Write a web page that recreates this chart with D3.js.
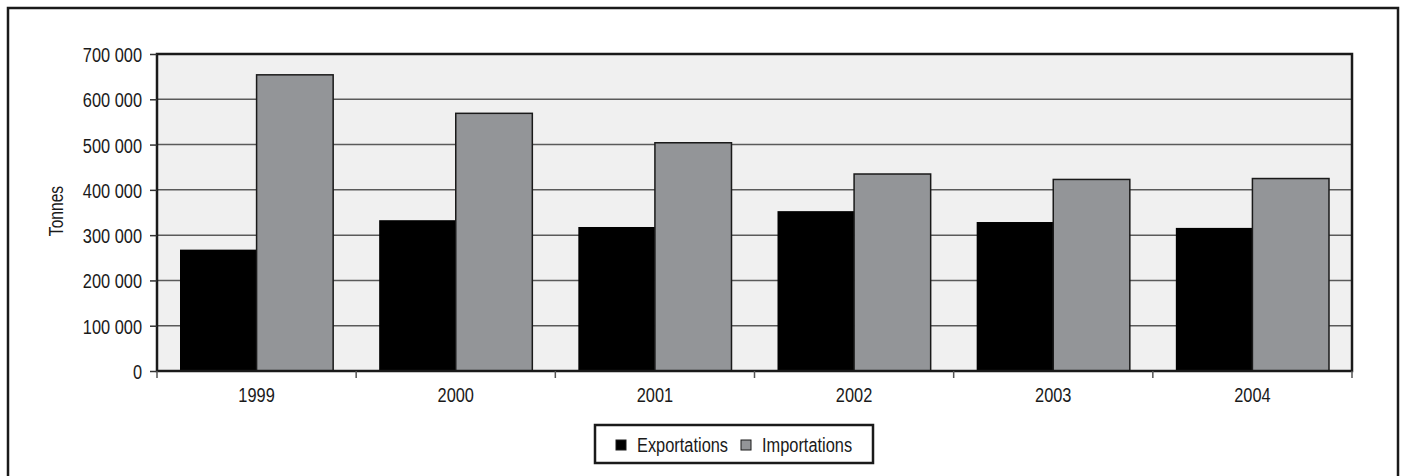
<!DOCTYPE html>
<html>
<head>
<meta charset="utf-8">
<script src="https://cdn.jsdelivr.net/npm/d3@7"></script>
<style>
  html, body { margin: 0; padding: 0; background: #fff; }
  svg { display: block; }
  text { font-family: "Liberation Sans", Arial, sans-serif; fill: #1a1a1a; }
</style>
</head>
<body>
<svg id="chart" width="1401" height="476"></svg>
<script>
const years = ["1999", "2000", "2001", "2002", "2003", "2004"];
const seriesNames = ["Exportations", "Importations"];
const exportations = [268000, 333000, 318000, 353000, 329000, 316000];
const importations = [654000, 569000, 504000, 435000, 423000, 425000];
const yTicks = [0, 100000, 200000, 300000, 400000, 500000, 600000, 700000];
const yTitle = "Tonnes";
const colors = { Exportations: "#000000", Importations: "#939598" };

const NARROW = 0.78; // horizontal compression to mimic a condensed face
const svg = d3.select("#chart");
const L = 157, R = 1352, T = 54, B = 371;

function narrowText(sel, x, y, anchor, size, txt, rotate) {
  const rot = rotate ? ` rotate(${rotate})` : "";
  return sel.append("text")
    .attr("transform", `translate(${x},${y})${rot} scale(${NARROW},1)`)
    .attr("text-anchor", anchor).attr("font-size", size).text(txt);
}

// outer frame
svg.append("rect").attr("x", 8).attr("y", 8).attr("width", 1390).attr("height", 480)
  .attr("fill", "none").attr("stroke", "#1a1a1a").attr("stroke-width", 2.5);

const y = d3.scaleLinear().domain([0, 700000]).range([B, T]);
const x0 = d3.scaleBand().domain(years).range([L, R]).paddingInner(0.231).paddingOuter(0.1155);
const x1 = d3.scaleBand().domain(seriesNames).range([0, x0.bandwidth()]);

// plot background
svg.append("rect").attr("x", L).attr("y", T).attr("width", R - L).attr("height", B - T).attr("fill", "#f0f0f0");

// gridlines
svg.append("g").selectAll("line").data(yTicks.filter(d => d > 0 && d < 700000)).join("line")
  .attr("x1", L).attr("x2", R).attr("y1", d => y(d)).attr("y2", d => y(d))
  .attr("stroke", "#5a5a5a").attr("stroke-width", 1.5);

// bars
const data = years.map((yr, i) => ({ year: yr, values: [
  { key: "Exportations", value: exportations[i] },
  { key: "Importations", value: importations[i] }
]}));
const groups = svg.append("g").selectAll("g").data(data).join("g")
  .attr("transform", d => `translate(${x0(d.year)},0)`);
groups.selectAll("rect").data(d => d.values).join("rect")
  .attr("x", d => x1(d.key)).attr("width", x1.bandwidth())
  .attr("y", d => y(d.value)).attr("height", d => y(0) - y(d.value))
  .attr("fill", d => colors[d.key])
  .attr("stroke", d => d.key === "Importations" ? "#1a1a1a" : "none")
  .attr("stroke-width", 1.5);

// plot border
svg.append("rect").attr("x", L).attr("y", T).attr("width", R - L).attr("height", B - T)
  .attr("fill", "none").attr("stroke", "#1a1a1a").attr("stroke-width", 2.5);

// y axis
const fmt = d => d3.format(",")(d).replace(/,/g, " ");
const yAxis = d3.axisLeft(y).tickValues(yTicks).tickSize(7).tickFormat(fmt);
const gy = svg.append("g").attr("transform", `translate(${L},0)`).call(yAxis);
gy.select(".domain").remove();
gy.selectAll(".tick line").attr("stroke", "#333").attr("stroke-width", 1.5);
gy.selectAll(".tick text").remove();
gy.selectAll(".tick").each(function(d) {
  narrowText(d3.select(this), -15, 7.5, "end", 21, fmt(d));
});

// x axis: ticks at band boundaries
const bounds = years.map(d => x0(d) - x0.step() * x0.paddingInner() / 2).concat([R]);
svg.append("g").selectAll("line").data(bounds).join("line")
  .attr("x1", d => d).attr("x2", d => d).attr("y1", B).attr("y2", B + 7)
  .attr("stroke", "#555").attr("stroke-width", 1.5);
const gx = svg.append("g");
years.forEach(d => narrowText(gx, x0(d) + x0.bandwidth() / 2, 402, "middle", 21, d));

// y title
narrowText(svg, 63, 211, "middle", 20, yTitle, -90);

// legend
const lg = svg.append("g");
lg.append("rect").attr("x", 595).attr("y", 425).attr("width", 278).attr("height", 38)
  .attr("fill", "#fff").attr("stroke", "#1a1a1a").attr("stroke-width", 2.5);
const legX = { Exportations: 616, Importations: 741 };
seriesNames.forEach(k => {
  lg.append("rect").attr("x", legX[k]).attr("y", 440).attr("width", 10).attr("height", 10)
    .attr("fill", colors[k]).attr("stroke", "#1a1a1a").attr("stroke-width", 1);
  narrowText(lg, legX[k] + 21, 451.5, "start", 21, k);
});
</script>
</body>
</html>
